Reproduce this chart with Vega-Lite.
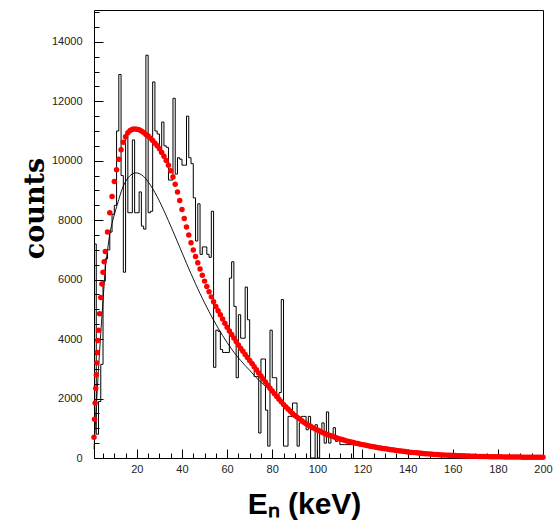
{
  "$schema": "https://vega.github.io/schema/vega-lite/v6.json",
  "width": 449,
  "height": 448,
  "autosize": {"type": "none"},
  "padding": {"left": 94, "top": 10, "right": 10, "bottom": 65},
  "background": "white",
  "config": {
    "view": {"stroke": "#000", "strokeWidth": 1},
    "axis": {"grid": false, "domain": false, "tickColor": "#000", "labelFont": "Liberation Sans", "labelFontSize": 11, "labelColor": "#222", "labelOverlap": false, "labelFlush": false}
  },
  "datasets": {
    "hist": [
      {"e":1,"c":7200},{"e":2,"c":800},{"e":3,"c":1900},{"e":4,"c":3150},{"e":5,"c":5950},{"e":6,"c":6700},{"e":7,"c":7000},{"e":8,"c":7600},{"e":9,"c":8200},{"e":10,"c":8500},
      {"e":11,"c":11000},{"e":12,"c":12900},{"e":13,"c":9500},{"e":14,"c":6250},{"e":15,"c":10900},{"e":16,"c":8250},{"e":17,"c":8250},{"e":18,"c":10700},{"e":19,"c":8250},{"e":20,"c":8250},
      {"e":21,"c":8950},{"e":22,"c":7800},{"e":23,"c":7700},{"e":24,"c":13550},{"e":25,"c":8250},{"e":26,"c":8300},{"e":27,"c":12650},{"e":28,"c":11000},{"e":29,"c":10900},{"e":30,"c":10250},
      {"e":31,"c":11300},{"e":32,"c":10500},{"e":33,"c":10450},{"e":34,"c":9350},{"e":35,"c":9350},{"e":36,"c":12100},{"e":37,"c":9550},{"e":38,"c":10100},{"e":39,"c":10050},{"e":40,"c":9850},
      {"e":41,"c":9850},{"e":42,"c":11500},{"e":43,"c":10100},{"e":44,"c":9900},{"e":45,"c":8750},{"e":46,"c":7300},{"e":47,"c":8550},{"e":48,"c":6850},{"e":49,"c":7100},{"e":50,"c":7100},
      {"e":51,"c":6850},{"e":52,"c":6750},{"e":53,"c":8300},{"e":54,"c":3050},{"e":55,"c":4300},{"e":56,"c":4260},{"e":57,"c":3650},{"e":58,"c":3550},{"e":59,"c":3550},{"e":60,"c":3550},
      {"e":61,"c":6050},{"e":62,"c":6600},{"e":63,"c":5100},{"e":64,"c":2700},{"e":65,"c":4820},{"e":66,"c":4030},{"e":67,"c":4030},{"e":68,"c":5750},{"e":69,"c":4650},{"e":70,"c":3200},
      {"e":71,"c":3200},{"e":72,"c":2740},{"e":73,"c":2740},{"e":74,"c":840},{"e":75,"c":3330},{"e":76,"c":3330},{"e":77,"c":1610},{"e":78,"c":400},{"e":79,"c":4300},{"e":80,"c":2700},
      {"e":81,"c":2700},{"e":82,"c":2000},{"e":83,"c":2200},{"e":84,"c":5330},{"e":85,"c":400},{"e":86,"c":400},{"e":87,"c":1400},{"e":88,"c":1400},{"e":89,"c":1850},{"e":90,"c":1850},
      {"e":91,"c":400},{"e":92,"c":1180},{"e":93,"c":1400},{"e":94,"c":1400},{"e":95,"c":950},{"e":96,"c":1400},{"e":97,"c":0},{"e":98,"c":0},{"e":99,"c":1120},{"e":100,"c":0},
      {"e":101,"c":840},{"e":102,"c":1180},{"e":103,"c":500},{"e":104,"c":1550},{"e":105,"c":500},{"e":106,"c":730},{"e":107,"c":1020},{"e":108,"c":560},{"e":109,"c":620},{"e":110,"c":450},
      {"e":111,"c":450},{"e":112,"c":450},{"e":113,"c":450},{"e":114,"c":450},{"e":115,"c":450},{"e":116,"c":0}
    ],
    "model": [
      {"e":1,"c":300},{"e":2,"c":1700},{"e":3,"c":3000},{"e":4,"c":4200},{"e":5,"c":5300},{"e":6,"c":6400},{"e":7,"c":7000},{"e":8,"c":7550},{"e":9,"c":7900},{"e":10,"c":8180},
      {"e":11,"c":8450},{"e":12,"c":8700},{"e":13,"c":8950},{"e":14,"c":9150},{"e":15,"c":9300},{"e":16,"c":9420},{"e":17,"c":9500},{"e":18,"c":9560},{"e":19,"c":9590},{"e":20,"c":9590},
      {"e":21,"c":9570},{"e":22,"c":9530},{"e":23,"c":9470},{"e":24,"c":9390},{"e":25,"c":9290},{"e":26,"c":9180},{"e":27,"c":9060},{"e":28,"c":8930},{"e":29,"c":8790},{"e":30,"c":8640},
      {"e":32,"c":8320},{"e":34,"c":7980},{"e":36,"c":7630},{"e":38,"c":7270},{"e":40,"c":6910},{"e":42,"c":6550},{"e":44,"c":6200},{"e":46,"c":5860},{"e":48,"c":5530},{"e":50,"c":5220},
      {"e":52,"c":4920},{"e":54,"c":4640},{"e":56,"c":4370},{"e":58,"c":4120},{"e":60,"c":3880},{"e":62,"c":3660},{"e":64,"c":3460},{"e":66,"c":3280},{"e":68,"c":3110},{"e":70,"c":2950},
      {"e":72,"c":2780},{"e":74,"c":2620},{"e":76,"c":2480},{"e":78,"c":2350},{"e":80,"c":2230},{"e":82,"c":2060},{"e":84,"c":1900},{"e":86,"c":1740},{"e":88,"c":1580},{"e":90,"c":1440},
      {"e":95,"c":1160},{"e":100,"c":950},{"e":105,"c":780},{"e":110,"c":645},{"e":115,"c":540},{"e":120,"c":452},{"e":130,"c":312},{"e":140,"c":206},{"e":150,"c":133},{"e":160,"c":86},
      {"e":170,"c":58},{"e":180,"c":41},{"e":190,"c":31},{"e":200,"c":23}
    ],
    "fit": [
      {"e":1,"c":700},{"e":1.25,"c":1300},{"e":1.5,"c":1850},{"e":1.75,"c":2350},{"e":2,"c":2800},{"e":2.25,"c":3200},{"e":2.5,"c":3550},{"e":2.75,"c":3950},{"e":3,"c":4300},{"e":3.5,"c":4850},
      {"e":4,"c":5400},{"e":4.5,"c":5850},{"e":5,"c":6250},{"e":5.5,"c":6600},{"e":6,"c":6950},{"e":7,"c":7600},{"e":8,"c":8250},{"e":9,"c":8800},{"e":10,"c":9300},{"e":11,"c":9700},
      {"e":12,"c":10050},{"e":13,"c":10370},{"e":14,"c":10620},{"e":15,"c":10810},{"e":16,"c":10940},{"e":17,"c":11020},{"e":18,"c":11060},{"e":19,"c":11070},{"e":20,"c":11060},
      {"e":21,"c":11040},{"e":22,"c":11000},{"e":23,"c":10950},{"e":24,"c":10880},{"e":25,"c":10830},{"e":26,"c":10760},{"e":27,"c":10680},{"e":28,"c":10590},{"e":29,"c":10500},{"e":30,"c":10400},
      {"e":31,"c":10280},{"e":32,"c":10150},{"e":33,"c":10010},{"e":34,"c":9850},{"e":35,"c":9660},{"e":36,"c":9450},{"e":37,"c":9210},{"e":38,"c":8950},{"e":39,"c":8660},{"e":40,"c":8360},
      {"e":41,"c":8060},{"e":42,"c":7770},{"e":43,"c":7500},{"e":44,"c":7240},{"e":45,"c":7000},{"e":46,"c":6780},{"e":47,"c":6570},{"e":48,"c":6360},{"e":49,"c":6150},{"e":50,"c":5950},
      {"e":51,"c":5770},{"e":52,"c":5590},{"e":53,"c":5420},{"e":54,"c":5260},{"e":55,"c":5100},{"e":56,"c":4955},{"e":57,"c":4815},{"e":58,"c":4675},{"e":59,"c":4535},{"e":60,"c":4400},
      {"e":61,"c":4275},{"e":62,"c":4155},{"e":63,"c":4035},{"e":64,"c":3915},{"e":65,"c":3800},{"e":66,"c":3695},{"e":67,"c":3590},{"e":68,"c":3485},{"e":69,"c":3380},{"e":70,"c":3280},
      {"e":71,"c":3175},{"e":72,"c":3070},{"e":73,"c":2965},{"e":74,"c":2860},{"e":75,"c":2760},{"e":76,"c":2655},{"e":77,"c":2555},{"e":78,"c":2450},{"e":79,"c":2350},{"e":80,"c":2250},
      {"e":81,"c":2160},{"e":82,"c":2070},{"e":83,"c":1980},{"e":84,"c":1890},{"e":85,"c":1800},{"e":86,"c":1725},{"e":87,"c":1650},{"e":88,"c":1575},{"e":89,"c":1500},{"e":90,"c":1430},
      {"e":91,"c":1375},{"e":92,"c":1320},{"e":93,"c":1260},{"e":94,"c":1205},{"e":95,"c":1150},{"e":96,"c":1105},{"e":97,"c":1065},{"e":98,"c":1020},{"e":99,"c":980},{"e":100,"c":940},
      {"e":101,"c":905},{"e":102,"c":870},{"e":103,"c":835},{"e":104,"c":800},{"e":105,"c":770},{"e":106,"c":745},{"e":107,"c":720},{"e":108,"c":690},{"e":109,"c":665},{"e":110,"c":640},
      {"e":111,"c":620},{"e":112,"c":600},{"e":113,"c":575},{"e":114,"c":555},{"e":115,"c":535},{"e":116,"c":520},{"e":117,"c":500},{"e":118,"c":485},{"e":119,"c":465},{"e":120,"c":450},
      {"e":121,"c":435},{"e":122,"c":420},{"e":123,"c":405},{"e":124,"c":390},{"e":125,"c":375},{"e":126,"c":360},{"e":127,"c":348},{"e":128,"c":335},{"e":129,"c":322},{"e":130,"c":310},
      {"e":131,"c":299},{"e":132,"c":288},{"e":133,"c":277},{"e":134,"c":266},{"e":135,"c":255},{"e":136,"c":245},{"e":137,"c":235},{"e":138,"c":225},{"e":139,"c":215},{"e":140,"c":205},
      {"e":141,"c":197},{"e":142,"c":189},{"e":143,"c":181},{"e":144,"c":173},{"e":145,"c":165},{"e":146,"c":158},{"e":147,"c":152},{"e":148,"c":145},{"e":149,"c":139},{"e":150,"c":132},
      {"e":151,"c":127},{"e":152,"c":121},{"e":153,"c":116},{"e":154,"c":110},{"e":155,"c":105},{"e":156,"c":101},{"e":157,"c":97},{"e":158,"c":93},{"e":159,"c":89},{"e":160,"c":85},
      {"e":161,"c":82},{"e":162,"c":79},{"e":163,"c":76},{"e":164,"c":73},{"e":165,"c":70},{"e":166,"c":67},{"e":167,"c":65},{"e":168,"c":62},{"e":169,"c":60},{"e":170,"c":57},
      {"e":171,"c":55},{"e":172,"c":53},{"e":173,"c":51},{"e":174,"c":49},{"e":175,"c":47},{"e":176,"c":46},{"e":177,"c":44},{"e":178,"c":43},{"e":179,"c":41},{"e":180,"c":40},
      {"e":181,"c":39},{"e":182,"c":38},{"e":183,"c":36},{"e":184,"c":35},{"e":185,"c":34},{"e":186,"c":33},{"e":187,"c":32},{"e":188,"c":32},{"e":189,"c":31},{"e":190,"c":30},
      {"e":191,"c":29},{"e":192,"c":28},{"e":193,"c":28},{"e":194,"c":27},{"e":195,"c":26},{"e":196,"c":25},{"e":197,"c":24},{"e":198,"c":24},{"e":199,"c":23},{"e":200,"c":22}
    ]
  },
  "encoding": {
    "x": {
      "field": "e", "type": "quantitative",
      "scale": {"domain": [1, 200], "nice": false, "zero": false},
      "axis": {
        "title": "Eₙ (keV)",
        "values": [5,10,15,20,25,30,35,40,45,50,55,60,65,70,75,80,85,90,95,100,105,110,115,120,125,130,135,140,145,150,155,160,165,170,175,180,185,190,195,200],
        "labelExpr": "datum.value % 20 === 0 ? datum.label : ''",
        "format": "d",
        "tickSize": {"condition": {"test": "datum.value % 20 === 0", "value": -9}, "value": -5},
        "labelPadding": 14,
        "titleFont": "Liberation Sans", "titleFontSize": 30, "titleFontWeight": "bold", "titleColor": "#000",
        "titleX": 210, "titleY": 55, "titleAlign": "center", "titleBaseline": "alphabetic"
      }
    },
    "y": {
      "field": "c", "type": "quantitative",
      "scale": {"domain": [0, 15070], "nice": false},
      "axis": {
        "title": "counts",
        "values": [0,500,1000,1500,2000,2500,3000,3500,4000,4500,5000,5500,6000,6500,7000,7500,8000,8500,9000,9500,10000,10500,11000,11500,12000,12500,13000,13500,14000,14500,15000],
        "labelExpr": "datum.value % 2000 === 0 ? datum.label : ''",
        "format": "d",
        "tickSize": {"condition": {"test": "datum.value % 2000 === 0", "value": -9}, "value": -5},
        "labelPadding": 21,
        "titleFont": "DejaVu Serif", "titleFontSize": 27, "titleFontWeight": "bold", "titleColor": "#000",
        "titleX": -51, "titleY": 198, "titleAngle": 270, "titleAlign": "center", "titleBaseline": "alphabetic"
      }
    }
  },
  "layer": [
    {"data": {"name": "hist"}, "mark": {"type": "line", "interpolate": "step-after", "stroke": "#000", "strokeWidth": 1}},
    {"data": {"name": "model"}, "mark": {"type": "line", "stroke": "#000", "strokeWidth": 0.9}},
    {"data": {"name": "fit"}, "mark": {"type": "circle", "color": "#ff0000", "size": 30, "opacity": 1}}
  ]
}
